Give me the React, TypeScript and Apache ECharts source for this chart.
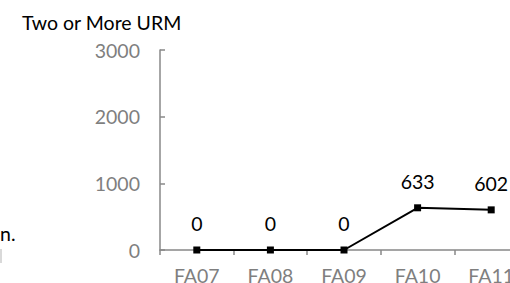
import React, { useEffect, useRef } from "react";
import * as echarts from "echarts";

const categories = ["FA07", "FA08", "FA09", "FA10", "FA11"];
const values = [0, 0, 0, 633, 602];
const yTicks = [0, 1000, 2000, 3000];
const titleText = "Two or More URM";
const leftFragment = "n.";

export default function App() {
  const ref = useRef<HTMLDivElement>(null);
  useEffect(() => {
    document.body.style.margin = "0";
    document.body.style.overflow = "hidden";
    const chart = echarts.init(ref.current!, null, { renderer: "svg" });
    const font = "Lato";
    chart.setOption({
      animation: false,
      backgroundColor: "#ffffff",
      title: {
        text: titleText,
        left: 17,
        top: 7,
        textStyle: { fontFamily: font, fontSize: 19.5, fontWeight: "normal", color: "#000" },
      },
      graphic: [
        {
          type: "text",
          left: 0,
          top: 223,
          style: { text: leftFragment, fontFamily: font, fontSize: 19.5, fill: "#000", x: -3 },
        },
        {
          type: "rect",
          shape: { x: 0, y: 249, width: 2, height: 14 },
          style: { fill: "#d9d9d9" },
        },
      ],
      grid: { left: 160, top: 50, bottom: 33, right: 0, containLabel: false, outerBoundsMode: "none" },
      xAxis: {
        type: "category",
        data: categories,
        boundaryGap: true,
        axisLine: { lineStyle: { color: "#888", width: 1.5 } },
        axisTick: { show: true, inside: false, length: 5, alignWithLabel: false, lineStyle: { color: "#888", width: 1.5 } },
        axisLabel: { fontFamily: font, fontSize: 19.5, color: "#7f7f7f", margin: 15 },
        splitLine: { show: false },
      },
      yAxis: {
        type: "value",
        min: yTicks[0],
        max: yTicks[yTicks.length - 1],
        interval: 1000,
        axisLine: { show: true, lineStyle: { color: "#888", width: 1.5 } },
        axisTick: { show: true, inside: true, length: 5, lineStyle: { color: "#888", width: 1.5 } },
        axisLabel: { fontFamily: font, fontSize: 19.5, color: "#7f7f7f", margin: 20, formatter: (v: number) => String(v) },
        splitLine: { show: false },
      },
      series: [
        {
          type: "line",
          data: values,
          symbol: "rect",
          symbolSize: 7,
          lineStyle: { color: "#000", width: 2 },
          itemStyle: { color: "#000" },
          label: {
            show: true,
            position: "top",
            distance: 13,
            fontFamily: font,
            fontSize: 19.5,
            color: "#000",
          },
        },
      ],
    });
    return () => chart.dispose();
  }, []);
  return (
    <div style={{ position: "absolute", left: 0, top: 0, width: 510, height: 283, overflow: "hidden" }}>
      <div ref={ref} style={{ position: "absolute", left: 0, top: 0, width: 528, height: 283 }} />
    </div>
  );
}
